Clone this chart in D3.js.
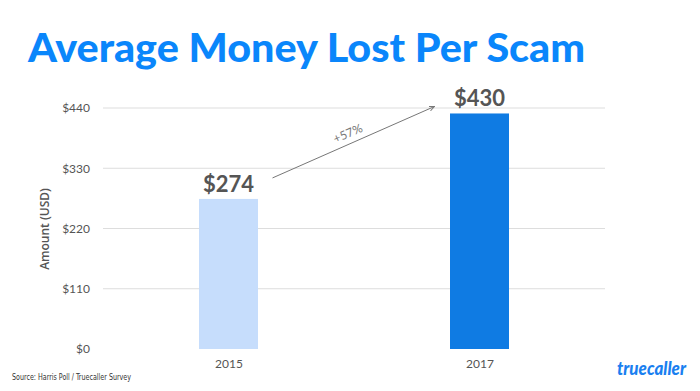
<!DOCTYPE html>
<html><head><meta charset="utf-8">
<script src="https://cdn.jsdelivr.net/npm/d3@7"></script>
<style>body{margin:0;background:#fff}svg{display:block}</style>
</head><body>
<script>
const categories = ["2015", "2017"];
const values = [274, 430];
const valueLabels = ["$274", "$430"];
const yTicks = [0, 110, 220, 330, 440];
const barColors = ["#c6ddfc", "#0f7be3"];
const changeLabel = "+57%";

const W = 700, H = 391;
const svg = d3.select("body").append("svg").attr("width", W).attr("height", H);
const font = "Lato, 'Open Sans', sans-serif";

const x = d3.scalePoint().domain(categories).range([103, 605]).padding(0.5);
const y = d3.scaleLinear().domain([0, 440]).range([349, 108]);
const bw = 59;

svg.append("text").attr("x", 28).attr("y", 62)
  .attr("font-family", font).attr("font-weight", 900).attr("font-size", 40)
  .attr("fill", "#0a86fb").attr("textLength", 557).attr("lengthAdjust", "spacingAndGlyphs")
  .text("Average Money Lost Per Scam");

// gridlines
svg.append("g").selectAll("line").data(yTicks.filter(d => d > 0)).join("line")
  .attr("x1", 103).attr("x2", 605).attr("y1", d => y(d)).attr("y2", d => y(d))
  .attr("stroke", "#dddddd").attr("stroke-width", 1);

const yAxis = svg.append("g").attr("transform", "translate(103,0)")
  .call(d3.axisLeft(y).tickValues(yTicks).tickFormat(d => "$" + d).tickSize(0).tickPadding(13));
yAxis.select(".domain").remove();
yAxis.selectAll("text").attr("font-family", font).attr("font-size", 12).attr("fill", "#555");

svg.append("text").attr("transform", "translate(49,229) rotate(-90)")
  .attr("text-anchor", "middle").attr("font-family", "'Open Sans', sans-serif").attr("font-weight", 600)
  .attr("font-size", 12).attr("fill", "#555").text("Amount (USD)");

svg.append("g").selectAll("rect").data(values).join("rect")
  .attr("x", (d, i) => x(categories[i]) - bw / 2).attr("width", bw)
  .attr("y", d => y(d)).attr("height", d => y(0) - y(d))
  .attr("fill", (d, i) => barColors[i]);

svg.append("g").selectAll("text").data(values).join("text")
  .attr("x", (d, i) => x(categories[i])).attr("y", d => y(d) - 7)
  .attr("text-anchor", "middle").attr("font-family", font).attr("font-weight", 700)
  .attr("font-size", 22).attr("fill", "#555").text((d, i) => valueLabels[i]);

const xAxis = svg.append("g").attr("transform", "translate(0,349)")
  .call(d3.axisBottom(x).tickSize(0).tickPadding(10));
xAxis.select(".domain").remove();
xAxis.selectAll("text").attr("font-family", font).attr("font-size", 12).attr("fill", "#555");

// arrow
const defs = svg.append("defs");
defs.append("marker").attr("id", "ah").attr("viewBox", "0 0 10 10").attr("refX", 9).attr("refY", 5)
  .attr("markerWidth", 6).attr("markerHeight", 6).attr("orient", "auto")
  .append("path").attr("d", "M0,1 L9,5 L0,9").attr("fill", "none").attr("stroke", "#777").attr("stroke-width", 1.5);
const x1 = x(categories[0]) + 44, y1 = y(values[0]) - 21;
const x2 = x(categories[1]) - 45, y2 = y(values[1]) - 7;
svg.append("line").attr("x1", x1).attr("y1", y1).attr("x2", x2).attr("y2", y2)
  .attr("stroke", "#777").attr("stroke-width", 1).attr("marker-end", "url(#ah)");
const ang = Math.atan2(y2 - y1, x2 - x1) * 180 / Math.PI;
svg.append("text").attr("transform", `translate(${(x1 + x2) / 2 - 4},${(y1 + y2) / 2 - 5}) rotate(${ang})`)
  .attr("text-anchor", "middle").attr("font-family", font).attr("font-size", 12)
  .attr("fill", "#777").text(changeLabel);

svg.append("text").attr("x", 12).attr("y", 380).attr("font-family", "'Liberation Sans Narrow', 'DejaVu Sans Condensed', sans-serif")
  .attr("font-size", 9).attr("fill", "#333").attr("textLength", 119).attr("lengthAdjust", "spacingAndGlyphs")
  .text("Source: Harris Poll / Truecaller Survey");

svg.append("text").attr("x", 617).attr("y", 375).attr("font-family", font).attr("font-weight", 900)
  .attr("font-style", "italic").attr("font-size", 18).attr("fill", "#1a7ff0")
  .attr("textLength", 69).attr("lengthAdjust", "spacingAndGlyphs").text("truecaller");
</script>
</body></html>
